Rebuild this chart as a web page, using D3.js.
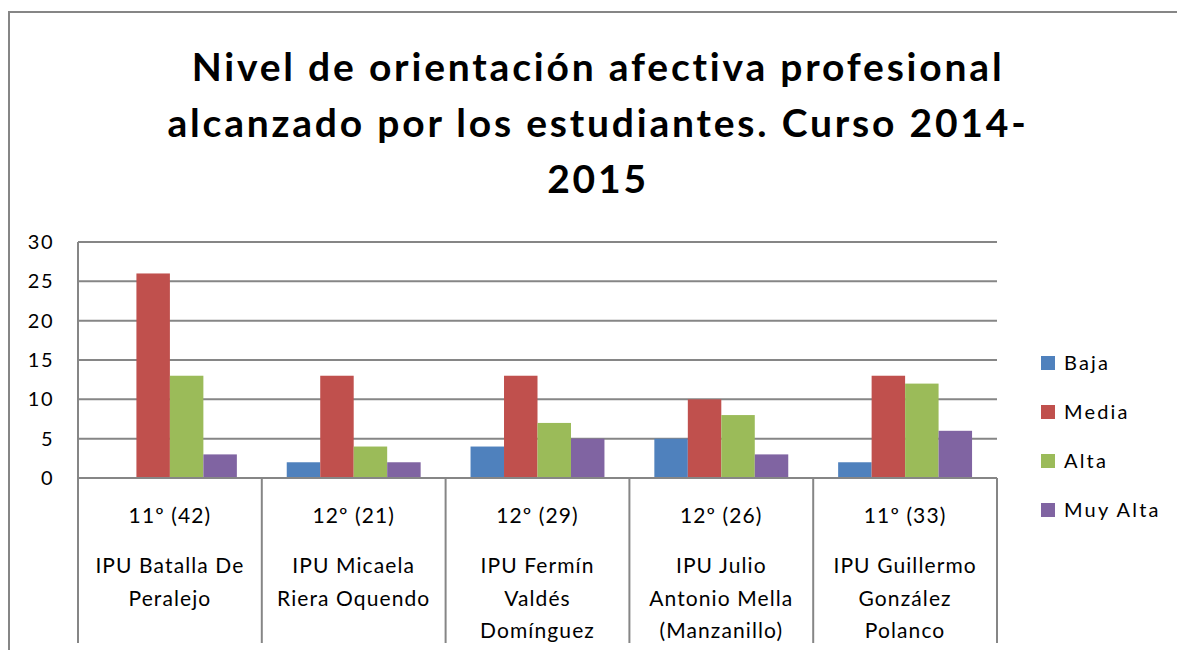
<html>
<head>
<meta charset="utf-8">
<script src="https://d3js.org/d3.v7.min.js"></script>
<style>
  body { margin: 0; background: #fff; }
  svg { display: block; font-family: "Lato", "Open Sans", sans-serif; }
  .title { font-size: 39px; font-weight: bold; fill: #000; letter-spacing: 2.8px; }
  .tick text { font-size: 20px; fill: #000; letter-spacing: 1.5px; }
  .cat { font-size: 21px; fill: #000; letter-spacing: 1.1px; }
  .legend text { font-size: 20px; fill: #000; letter-spacing: 2.2px; }
</style>
</head>
<body>
<script>
// ---------------------------------------------------------------
// data
// ---------------------------------------------------------------
var grades  = ["11º (42)", "12º (21)", "12º (29)", "12º (26)", "11º (33)"];
var schools = [
  ["IPU Batalla De", "Peralejo"],
  ["IPU Micaela", "Riera Oquendo"],
  ["IPU Fermín", "Valdés", "Domínguez"],
  ["IPU Julio", "Antonio Mella", "(Manzanillo)"],
  ["IPU Guillermo", "González", "Polanco"]
];
var series   = ["Baja", "Media", "Alta", "Muy Alta"];
var baja     = [0, 2, 4, 5, 2];
var media    = [26, 13, 13, 10, 13];
var alta     = [13, 4, 7, 8, 12];
var muyAlta  = [3, 2, 5, 3, 6];
var colors   = ["#4F81BD", "#C0504D", "#9BBB59", "#8064A2"];
var yTicks   = [0, 5, 10, 15, 20, 25, 30];
var titleLines = ["Nivel de orientación afectiva profesional",
                  "alcanzado por los estudiantes. Curso 2014-",
                  "2015"];

var values = [baja, media, alta, muyAlta];

// ---------------------------------------------------------------
// layout
// ---------------------------------------------------------------
var W = 1177, H = 650;
var plot = { left: 78, right: 997, top: 242, bottom: 478 };

var svg = d3.select("body").append("svg")
  .attr("width", W).attr("height", H);

// outer chart border
svg.append("rect")
  .attr("x", 9).attr("y", 12)
  .attr("width", W + 10).attr("height", H + 10)
  .attr("fill", "none").attr("stroke", "#868686").attr("stroke-width", 2);

// title
svg.append("g").selectAll("text").data(titleLines).enter()
  .append("text").attr("class", "title")
  .attr("x", 598).attr("y", function(d, i){ return 81 + i * 56; })
  .attr("text-anchor", "middle")
  .text(function(d){ return d; });

var x0 = d3.scaleBand().domain(d3.range(grades.length))
  .range([plot.left, plot.right]).padding(0);
var x1 = d3.scaleBand().domain(series)
  .range([0, x0.bandwidth()]).paddingInner(0).paddingOuter(0.745);
var y = d3.scaleLinear().domain([0, 30]).range([plot.bottom, plot.top]);

// gridlines
svg.append("g").selectAll("line").data(yTicks.slice(1)).enter()
  .append("line")
  .attr("x1", plot.left).attr("x2", plot.right)
  .attr("y1", function(d){ return y(d); }).attr("y2", function(d){ return y(d); })
  .attr("stroke", "#868686").attr("stroke-width", 2);

// y axis
var yAxis = svg.append("g")
  .attr("transform", "translate(" + plot.left + ",0)")
  .call(d3.axisLeft(y).tickValues(yTicks).tickSize(0).tickPadding(24));
yAxis.select(".domain").remove();
yAxis.attr("font-family", null).attr("font-size", null);

// bars
var groups = svg.append("g").selectAll("g").data(grades).enter()
  .append("g")
  .attr("transform", function(d, i){ return "translate(" + x0(i) + ",0)"; });

groups.selectAll("rect")
  .data(function(d, i){ return series.map(function(s, k){ return { s: s, k: k, v: values[k][i] }; }); })
  .enter().append("rect")
  .attr("x", function(d){ return x1(d.s); })
  .attr("y", function(d){ return y(d.v); })
  .attr("width", x1.bandwidth())
  .attr("height", function(d){ return y(0) - y(d.v); })
  .attr("fill", function(d){ return colors[d.k]; });

// category axis line + dividers
svg.append("line")
  .attr("x1", plot.left).attr("x2", plot.right)
  .attr("y1", plot.bottom).attr("y2", plot.bottom)
  .attr("stroke", "#868686").attr("stroke-width", 2);
svg.append("line")
  .attr("x1", plot.left).attr("x2", plot.left)
  .attr("y1", plot.top).attr("y2", plot.bottom)
  .attr("stroke", "#868686").attr("stroke-width", 2);
svg.append("g").selectAll("line").data(d3.range(grades.length + 1)).enter()
  .append("line")
  .attr("x1", function(i){ return plot.left + i * x0.step(); })
  .attr("x2", function(i){ return plot.left + i * x0.step(); })
  .attr("y1", plot.bottom).attr("y2", 643)
  .attr("stroke", "#868686").attr("stroke-width", 2);

// category labels
var labels = svg.append("g").selectAll("g").data(grades).enter()
  .append("g")
  .attr("transform", function(d, i){ return "translate(" + (x0(i) + x0.bandwidth() / 2) + ",0)"; });
labels.append("text").attr("class", "cat")
  .attr("text-anchor", "middle").attr("y", 523)
  .text(function(d){ return d; });
labels.each(function(d, i){
  d3.select(this).selectAll("text.line").data(schools[i]).enter()
    .append("text").attr("class", "cat line")
    .attr("text-anchor", "middle")
    .attr("y", function(t, j){ return 573 + j * 32.5; })
    .text(function(t){ return t; });
});

// legend
var legend = svg.append("g").attr("class", "legend")
  .selectAll("g").data(series).enter()
  .append("g")
  .attr("transform", function(d, i){ return "translate(1041," + (363 + i * 49) + ")"; });
legend.append("rect")
  .attr("x", 0).attr("y", -7).attr("width", 14).attr("height", 14)
  .attr("fill", function(d, i){ return colors[i]; });
legend.append("text")
  .attr("x", 23).attr("y", 7)
  .text(function(d){ return d; });
</script>
</body>
</html>
